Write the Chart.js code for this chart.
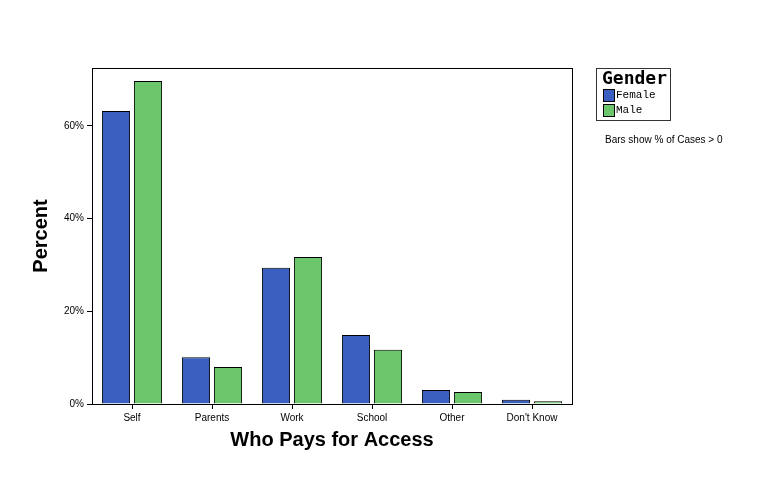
<!DOCTYPE html>
<html><head><meta charset="utf-8">
<script src="https://cdn.jsdelivr.net/npm/chart.js@4/dist/chart.umd.min.js"></script>
<style>html,body{margin:0;padding:0;background:#fff}#w{width:760px;height:488px}</style>
</head><body><div id="w"><canvas id="c"></canvas></div>
<script>
const categories = ["Self","Parents","Work","School","Other","Don't Know"];
const female = [63.2,10.1,29.4,14.9,3.0,0.9];
const male = [69.7,8.0,31.7,11.7,2.6,0.6];
const yTicks = [0,20,40,60];

const frame = {
  id:'frame',
  afterDraw(ch){
    const {ctx,chartArea:a}=ch;
    ctx.save();
    ctx.strokeStyle='#000';ctx.lineWidth=1;
    ctx.strokeRect(a.left+0.5,a.top+0.5,a.right-a.left,a.bottom-a.top);
    ctx.fillStyle='#000';
    ctx.font='bold 20px "Liberation Sans", Arial';
    ctx.textAlign='center';ctx.textBaseline='middle';
    ctx.fillText('Who Pays for Access',332,440);
    ctx.save();ctx.translate(41,236);ctx.rotate(-Math.PI/2);
    ctx.fillText('Percent',0,0);ctx.restore();
    ctx.textAlign='left';
    // legend
    ctx.strokeStyle='#333';
    ctx.strokeRect(596.5,68.5,74,52);
    ctx.font='bold 18px "DejaVu Sans Mono", monospace';
    ctx.fillText('Gender',602,79);
    ctx.font='11px "Liberation Mono", monospace';
    [['#3a5fc0','Female',95],['#6cc66c','Male',110]].forEach(([c,t,y])=>{
      ctx.fillStyle=c;ctx.fillRect(603,y-6,11,12);
      ctx.strokeStyle='#000';ctx.strokeRect(603.5,y-5.5,11,12);
      ctx.fillStyle='#000';ctx.fillText(t,616,y);
    });
    ctx.font='10px "Liberation Sans", Arial';
    ctx.fillText('Bars show % of Cases > 0',605,140);
    ctx.restore();
  }
};

new Chart(document.getElementById('c'),{
  type:'bar',
  data:{labels:categories,datasets:[
    {label:'Female',data:female,backgroundColor:'#3a5fc0',borderColor:'#000',borderWidth:1,categoryPercentage:0.8,barPercentage:0.88},
    {label:'Male',data:male,backgroundColor:'#6cc66c',borderColor:'#000',borderWidth:1,categoryPercentage:0.8,barPercentage:0.88}
  ]},
  options:{
    responsive:true,maintainAspectRatio:false,animation:false,
    layout:{padding:{top:68,right:188,left:0,bottom:0}},
    plugins:{legend:{display:false},tooltip:{enabled:false}},
    scales:{
      x:{
        grid:{display:true,drawOnChartArea:false,tickLength:5,color:'#000',offset:false},
        border:{color:'#000'},
        ticks:{color:'#000',font:{family:'Liberation Sans, Arial',size:10},maxRotation:0},
        afterFit(s){s.height=84;}
      },
      y:{
        min:0,max:72.5,
        afterBuildTicks(s){s.ticks=yTicks.map(v=>({value:v}));},
        grid:{display:true,drawOnChartArea:false,tickLength:5,color:'#000'},
        border:{color:'#000'},
        ticks:{color:'#000',font:{family:'Liberation Sans, Arial',size:10},callback:v=>v+'%'},
        afterFit(s){s.width=92;}
      }
    }
  },
  plugins:[frame]
});
</script></body></html>
